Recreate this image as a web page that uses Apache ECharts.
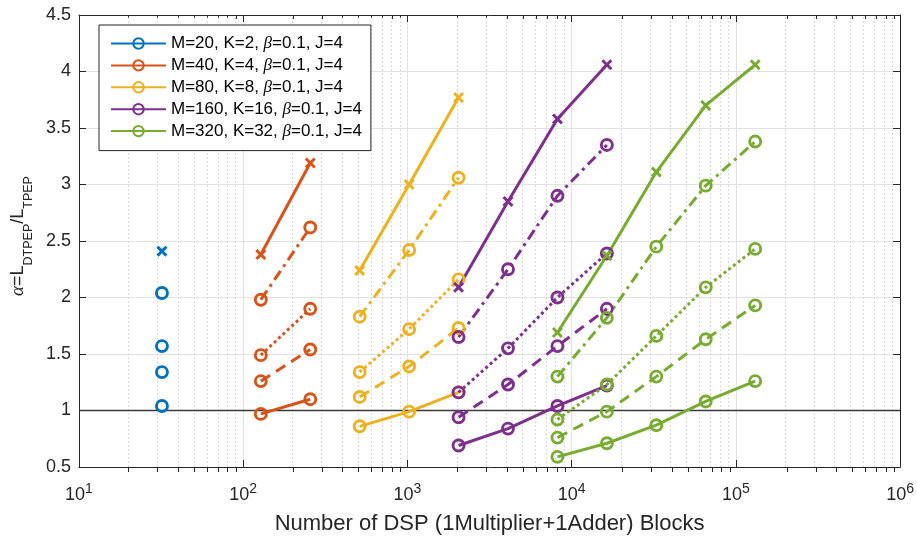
<!DOCTYPE html>
<html><head><meta charset="utf-8">
<script src="https://cdn.jsdelivr.net/npm/echarts@6/dist/echarts.min.js"></script>
<style>html,body{margin:0;padding:0;background:#fff}#c{width:917px;height:540px}</style>
</head><body><div id="c"></div>
<script>
// ---- data ----
const groupNames = ['M=20, K=2, β=0.1, J=4','M=40, K=4, β=0.1, J=4','M=80, K=8, β=0.1, J=4','M=160, K=16, β=0.1, J=4','M=320, K=32, β=0.1, J=4'];
const colors = ['#0072BD','#D95319','#EDB120','#7E2F8E','#77AC30'];

const xM20  = [32];
const xM40  = [128, 256];
const xM80  = [512, 1024, 2048];
const xM160 = [2048, 4096, 8192, 16384];
const xM320 = [8192, 16384, 32768, 65536, 131072];

const m20Cross   = [2.41];
const m20DashDot = [2.04];
const m20Dotted  = [1.57];
const m20Dashed  = [1.34];
const m20Solid   = [1.04];

const m40Cross   = [2.38, 3.19];
const m40DashDot = [1.98, 2.62];
const m40Dotted  = [1.49, 1.90];
const m40Dashed  = [1.26, 1.54];
const m40Solid   = [0.97, 1.10];

const m80Cross   = [2.24, 3.00, 3.77];
const m80DashDot = [1.83, 2.42, 3.06];
const m80Dotted  = [1.34, 1.72, 2.16];
const m80Dashed  = [1.12, 1.39, 1.73];
const m80Solid   = [0.86, 0.99, 1.16];

const m160Cross   = [2.09, 2.85, 3.58, 4.06];
const m160DashDot = [1.65, 2.25, 2.90, 3.35];
const m160Dotted  = [1.16, 1.55, 2.00, 2.39];
const m160Dashed  = [0.94, 1.23, 1.57, 1.90];
const m160Solid   = [0.69, 0.84, 1.04, 1.22];

const m320Cross   = [1.69, 2.37, 3.11, 3.70, 4.06];
const m320DashDot = [1.30, 1.82, 2.45, 2.99, 3.38];
const m320Dotted  = [0.92, 1.23, 1.66, 2.09, 2.43];
const m320Dashed  = [0.76, 0.99, 1.30, 1.63, 1.93];
const m320Solid   = [0.59, 0.71, 0.87, 1.08, 1.26];

const xTicks = [10, 100, 1000, 10000, 100000, 1000000];
const xMinorTicks = [20,30,40,50,60,70,80,90,200,300,400,500,600,700,800,900,2000,3000,4000,5000,6000,7000,8000,9000,20000,30000,40000,50000,60000,70000,80000,90000,200000,300000,400000,500000,600000,700000,800000,900000];
const yTicks = [0.5, 1, 1.5, 2, 2.5, 3, 3.5, 4, 4.5];
const refLineY = 1;

// ---- build ----
const groupX = [xM20, xM40, xM80, xM160, xM320];
const groups = [
  {solid:m20Solid, dashed:m20Dashed, dotted:m20Dotted, dashdot:m20DashDot, cross:m20Cross},
  {solid:m40Solid, dashed:m40Dashed, dotted:m40Dotted, dashdot:m40DashDot, cross:m40Cross},
  {solid:m80Solid, dashed:m80Dashed, dotted:m80Dotted, dashdot:m80DashDot, cross:m80Cross},
  {solid:m160Solid, dashed:m160Dashed, dotted:m160Dotted, dashdot:m160DashDot, cross:m160Cross},
  {solid:m320Solid, dashed:m320Dashed, dotted:m320Dotted, dashdot:m320DashDot, cross:m320Cross}
];
const dashTypes = {solid:'solid', dashed:[11,7], dotted:[3,3], dashdot:[11,5,3,5], cross:'solid'};
const crossPath = 'path://M0,1.9L1.9,0L5,3.1L8.1,0L10,1.9L6.9,5L10,8.1L8.1,10L5,6.9L1.9,10L0,8.1L3.1,5Z';
const FONT = 'Liberation Sans, Arial, Helvetica, sans-serif';
const AX = '#262626';

const series = [];
groups.forEach((g, gi) => {
  const xs = groupX[gi];
  const c = colors[gi];
  ['solid','dashed','dotted','dashdot','cross'].forEach(k => {
    const isCross = k === 'cross';
    series.push({
      type: 'line',
      name: k === 'solid' ? groupNames[gi] : groupNames[gi] + ' ' + k,
      xAxisIndex: 0, yAxisIndex: 0,
      data: xs.map((x, i) => [x, g[k][i]]),
      symbol: isCross ? crossPath : 'circle',
      symbolSize: 11,
      symbolKeepAspect: true,
      showSymbol: true,
      lineStyle: {color: c, width: 3, type: dashTypes[k]},
      itemStyle: isCross ? {color: c, borderWidth: 0} : {color: 'rgba(255,255,255,0)', borderColor: c, borderWidth: 2.9},
      emphasis: {disabled: true},
      silent: true,
      z: 3
    });
  });
});
// grid helper lines
series[0].markLine = {
  silent: true, symbol: ['none','none'], label: {show: false}, animation: false, z: 1,
  data: xMinorTicks.map(v => ({xAxis: v, lineStyle: {color: '#cfcfcf', type: [1.5,2.5], width: 1}}))
    .concat([{yAxis: refLineY, lineStyle: {color: '#3a3a3a', type: 'solid', width: 1.4}}])
};

const minorTickAxis = (pos) => ({
  type: 'log', logBase: 10, min: 10, max: 1e6, gridIndex: 1, position: pos,
  axisLine: {show: false}, axisLabel: {show: false}, splitLine: {show: false},
  axisTick: {show: true, inside: true, length: 4, customValues: xMinorTicks, lineStyle: {color: AX, width: 1}}
});

const option = {
  animation: false,
  backgroundColor: '#fff',
  textStyle: {fontFamily: FONT},
  grid: [
    {left: 79, right: 15, top: 15, bottom: 68, show: false},
    {left: 79, right: 15, top: 15, bottom: 68, show: false}
  ],
  legend: {
    orient: 'vertical', left: 99, top: 25,
    data: groupNames,
    selectedMode: false,
    itemWidth: 55, itemHeight: 13, itemGap: 4.9,
    padding: [10, 9, 11, 11],
    borderColor: AX, borderWidth: 1, backgroundColor: '#fff',
    textStyle: {fontSize: 17, color: '#000', fontFamily: FONT,
      rich: {b: {fontSize: 17, fontStyle: 'italic', fontFamily: 'Liberation Serif, serif', color: '#000'}}},
    formatter: n => n.replace('β', '{b|β}'),
    z: 10
  },
  xAxis: [
    {
      type: 'log', logBase: 10, min: 10, max: 1e6, gridIndex: 0, position: 'bottom',
      axisLine: {show: true, lineStyle: {color: AX, width: 1}},
      axisTick: {show: true, inside: true, length: 7, lineStyle: {color: AX, width: 1}},
      axisLabel: {
        margin: 15, color: AX,
        formatter: v => '{b|10}{p|' + Math.round(Math.log10(v)) + '}',
        rich: {
          b: {fontSize: 18, lineHeight: 26, verticalAlign: 'middle', color: AX, fontFamily: FONT},
          p: {fontSize: 14, lineHeight: 12, verticalAlign: 'top', color: AX, fontFamily: FONT}
        }
      },
      splitLine: {show: true, lineStyle: {color: '#e2e2e2', width: 1}},
      name: 'Number of DSP (1Multiplier+1Adder) Blocks',
      nameLocation: 'middle', nameGap: 46,
      nameTextStyle: {fontSize: 22, color: AX, fontFamily: FONT}
    },
    {
      type: 'log', logBase: 10, min: 10, max: 1e6, gridIndex: 0, position: 'top',
      axisLine: {show: true, lineStyle: {color: AX, width: 1}},
      axisTick: {show: true, inside: true, length: 7, lineStyle: {color: AX, width: 1}},
      axisLabel: {show: false}, splitLine: {show: false}
    },
    minorTickAxis('bottom'),
    minorTickAxis('top')
  ],
  yAxis: [
    {
      type: 'value', min: 0.5, max: 4.5, interval: 0.5, gridIndex: 0, position: 'left',
      axisLine: {show: true, lineStyle: {color: AX, width: 1}},
      axisTick: {show: true, inside: true, length: 7, lineStyle: {color: AX, width: 1}},
      axisLabel: {margin: 8, fontSize: 18, color: AX, fontFamily: FONT},
      splitLine: {show: true, lineStyle: {color: '#e2e2e2', width: 1}},
      name: '{a|α}{n|=L}{s|DTPEP}{n|/L}{s|TPEP}',
      nameLocation: 'middle', nameGap: 40, nameRotate: 90,
      nameTextStyle: {
        color: AX,
        padding: [0, 0, 0, 10],
        rich: {
          a: {fontSize: 19, lineHeight: 34, verticalAlign: 'middle', fontStyle: 'italic', fontFamily: 'Liberation Serif, serif', color: AX},
          n: {fontSize: 18, lineHeight: 34, verticalAlign: 'middle', fontFamily: FONT, color: AX},
          s: {fontSize: 12.5, lineHeight: 13, verticalAlign: 'bottom', fontFamily: FONT, color: AX}
        }
      }
    },
    {
      type: 'value', min: 0.5, max: 4.5, interval: 0.5, gridIndex: 0, position: 'right',
      axisLine: {show: true, lineStyle: {color: AX, width: 1}},
      axisTick: {show: true, inside: true, length: 7, lineStyle: {color: AX, width: 1}},
      axisLabel: {show: false}, splitLine: {show: false}
    },
    {type: 'value', min: 0.5, max: 4.5, gridIndex: 1, show: false}
  ],
  series: series
};
const chart = echarts.init(document.getElementById('c'), null, {renderer: 'canvas'});
chart.setOption(option);
</script></body></html>
